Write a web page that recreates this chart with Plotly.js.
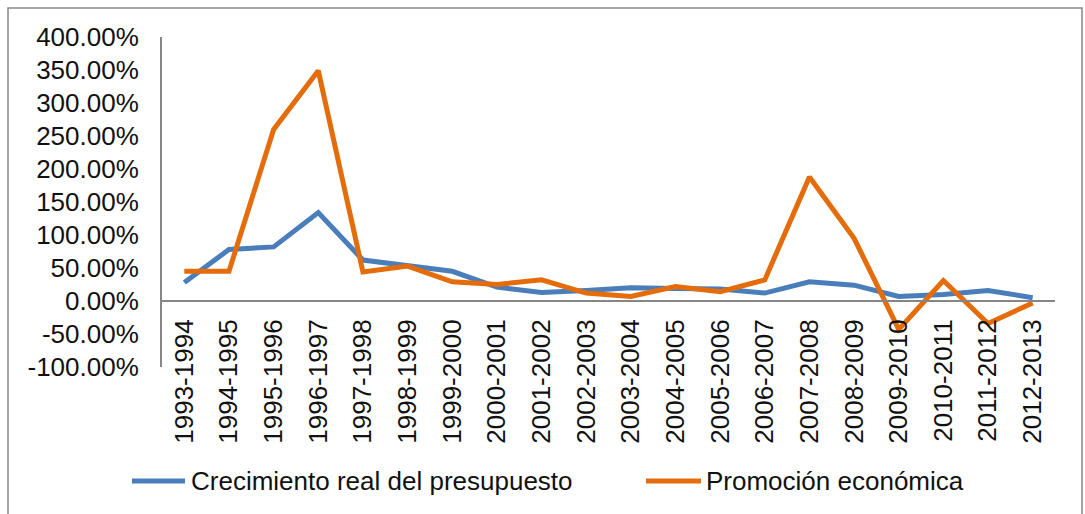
<!DOCTYPE html>
<html>
<head>
<meta charset="utf-8">
<script src="https://cdn.plot.ly/plotly-3.0.1.min.js"></script>
<style>
  html, body { margin: 0; padding: 0; background: #ffffff; }
  #chart { width: 1085px; height: 514px; }
</style>
</head>
<body>
<div id="chart"></div>
<script>
// ---- data ----
var categories = ["1993-1994","1994-1995","1995-1996","1996-1997","1997-1998","1998-1999","1999-2000","2000-2001","2001-2002","2002-2003","2003-2004","2004-2005","2005-2006","2006-2007","2007-2008","2008-2009","2009-2010","2010-2011","2011-2012","2012-2013"];
var crecimientoReal = [28, 78, 82, 134, 62, 53, 45, 21, 13, 16, 20, 19, 18, 12, 29, 24, 7, 10, 16, 5];
var promocionEconomica = [45, 45, 260, 349, 44, 53, 29, 25, 32, 12, 7, 22, 14, 32, 188, 95, -43, 31, -34, -3];
var seriesNames = ["Crecimiento real del presupuesto", "Promoción económica"];
var yTickValues = [-100, -50, 0, 50, 100, 150, 200, 250, 300, 350, 400];
var yTickLabels = ["-100.00%", "-50.00%", "0.00%", "50.00%", "100.00%", "150.00%", "200.00%", "250.00%", "300.00%", "350.00%", "400.00%"];

// ---- styling ----
var blue = "#4A7EBB";
var orange = "#E46C0A";
var axisGrey = "#868686";
var textColor = "#111111";
var fontFamily = "'Liberation Sans', Arial, sans-serif";

var W = 1085, H = 514;
var mL = 162, mR = 30, mT = 37, mB = 147;
var plotW = W - mL - mR, plotH = H - mT - mB;
function px2x(px) { return (px - mL) / plotW; }
function py2y(py) { return (H - mB - py) / plotH; }

var traces = [
  { x: categories, y: crecimientoReal, name: seriesNames[0], type: "scatter", mode: "lines",
    line: { color: blue, width: 5 }, hoverinfo: "x+y" },
  { x: categories, y: promocionEconomica, name: seriesNames[1], type: "scatter", mode: "lines",
    line: { color: orange, width: 5 }, hoverinfo: "x+y" }
];

var legendY = py2y(481);
var layout = {
  width: W, height: H,
  margin: { l: mL, r: mR, t: mT, b: mB, pad: 0 },
  paper_bgcolor: "#ffffff",
  plot_bgcolor: "#ffffff",
  showlegend: false,
  font: { family: fontFamily, size: 26, color: textColor },
  xaxis: {
    type: "category",
    range: [-0.5, categories.length - 0.5],
    anchor: "free",
    position: (0 - (-100)) / 500,
    showline: true, linecolor: axisGrey, linewidth: 2,
    showgrid: false, zeroline: false,
    ticks: "", tickangle: -90,
    ticklabelstandoff: 7,
    tickfont: { family: fontFamily, size: 26, color: textColor },
    fixedrange: true
  },
  yaxis: {
    range: [-100, 400],
    tickmode: "array", tickvals: yTickValues, ticktext: yTickLabels,
    showline: true, linecolor: axisGrey, linewidth: 2,
    showgrid: false, zeroline: false,
    ticks: "",
    ticklabelstandoff: 16,
    tickfont: { family: fontFamily, size: 26, color: textColor },
    fixedrange: true
  },
  shapes: [
    { type: "rect", xref: "paper", yref: "paper",
      x0: px2x(8), x1: px2x(1082), y0: py2y(522), y1: py2y(8),
      line: { color: axisGrey, width: 1.5 }, fillcolor: "rgba(0,0,0,0)", layer: "below" },
    { type: "line", xref: "paper", yref: "paper",
      x0: px2x(132), x1: px2x(185), y0: legendY, y1: legendY,
      line: { color: blue, width: 5 } },
    { type: "line", xref: "paper", yref: "paper",
      x0: px2x(646), x1: px2x(701), y0: legendY, y1: legendY,
      line: { color: orange, width: 5 } }
  ],
  annotations: [
    { xref: "paper", yref: "paper", x: px2x(189), y: legendY, xanchor: "left", yanchor: "middle",
      text: seriesNames[0], showarrow: false, font: { family: fontFamily, size: 26, color: textColor } },
    { xref: "paper", yref: "paper", x: px2x(704), y: legendY, xanchor: "left", yanchor: "middle",
      text: seriesNames[1], showarrow: false, font: { family: fontFamily, size: 26, color: textColor } }
  ]
};

Plotly.newPlot("chart", traces, layout, { displayModeBar: false, staticPlot: true });
</script>
</body>
</html>
